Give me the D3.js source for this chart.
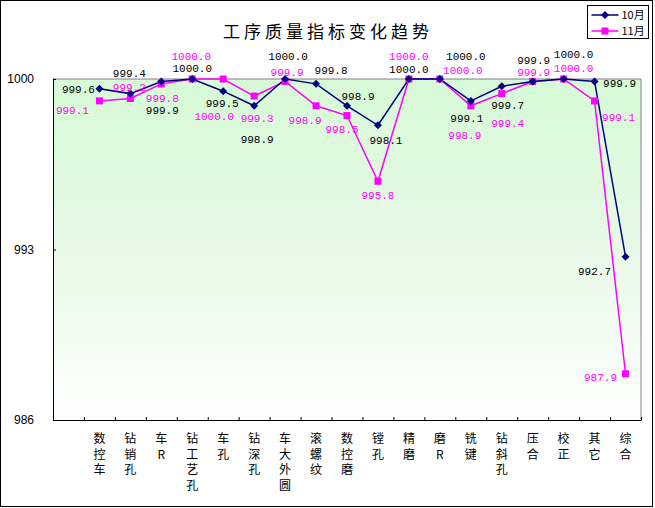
<!DOCTYPE html>
<html>
<head>
<meta charset="utf-8">
<script src="https://cdn.jsdelivr.net/npm/d3@7"></script>
<style>
    body { margin: 0; background: #fff; }
    svg text { font-family: "Liberation Sans", Arial, sans-serif; }
    .lbl { font-family: "Liberation Mono", "DejaVu Sans Mono", monospace; font-size: 11px; }
    .cjk { font-family: "Noto Sans CJK SC", sans-serif; }
</style>
</head>
<body>
<svg id="chart" width="655" height="508"></svg>
<script>
const categories = ["数控车", "钻销孔", "车R", "钻工艺孔", "车孔", "钻深孔", "车大外圆", "滚螺纹", "数控磨",
    "镗孔", "精磨", "磨R", "铣键", "钻斜孔", "压合", "校正", "其它", "综合"];
const oct = [999.6, 999.4, 999.9, 1000.0, 999.5, 998.9, 1000.0, 999.8, 998.9, 998.1, 1000.0, 1000.0,
    999.1, 999.7, 999.9, 1000.0, 999.9, 992.7];
const nov = [999.1, 999.2, 999.8, 1000.0, 1000.0, 999.3, 999.9, 998.9, 998.5, 995.8, 1000.0, 1000.0,
    998.9, 999.4, 999.9, 1000.0, 999.1, 987.9];
const yTicks = [986, 993, 1000];
const seriesNames = ["10月", "11月"];

// where each data label sits relative to its point (dx, dy)
const octLabelOffset = [[-21, 0], [-1, -20], [1, 29], [0, -11], [-1, 12], [3, 33], [3, -23], [15, -14],
    [11, -10], [8, 15], [0, -10], [26, -23], [-4, 17], [6, 19], [1, -21], [10, -25], [25, 2], [-31, 14]];
const novLabelOffset = [[-27, 9], [-1, -11], [1, 14], [-1, -23], [-9, 37], [3, 22], [2, -9], [-11, 14],
    [-5, 14], [0, 14], [0, -23], [23, -9], [-6, 29], [6, 30], [1, -9], [10, -11], [24, 16], [-25, 3]];

const plot = {left: 53, right: 641, top: 79, bottom: 420};
const n = categories.length;

const svg = d3.select("#chart");

// outer frame
svg.append("rect")
    .attr("x", 0.5).attr("y", 0.5)
    .attr("width", 652).attr("height", 506)
    .attr("fill", "#fff").attr("stroke", "#000");

const defs = svg.append("defs");
const grad = defs.append("linearGradient")
    .attr("id", "bg").attr("x1", 0).attr("y1", 0).attr("x2", 0).attr("y2", 1);
grad.append("stop").attr("offset", "0%").attr("stop-color", "#ccffcc");
grad.append("stop").attr("offset", "45%").attr("stop-color", "#e0fbe0");
grad.append("stop").attr("offset", "100%").attr("stop-color", "#ffffff");

const dots = defs.append("pattern")
    .attr("id", "dots").attr("width", 4).attr("height", 4)
    .attr("patternUnits", "userSpaceOnUse");
dots.append("rect").attr("width", 1).attr("height", 1).attr("fill", "#fff");
dots.append("rect").attr("x", 2).attr("y", 2).attr("width", 1).attr("height", 1).attr("fill", "#fff");

const x = d3.scaleLinear().domain([-1.5, n - 0.5]).range([plot.left, plot.right]);
const y = d3.scaleLinear().domain([986, 1000]).range([plot.bottom, plot.top]);

// plot area
svg.append("rect")
    .attr("x", plot.left).attr("y", plot.top)
    .attr("width", plot.right - plot.left).attr("height", plot.bottom - plot.top)
    .attr("fill", "url(#bg)");
svg.append("rect")
    .attr("x", plot.left).attr("y", plot.top)
    .attr("width", plot.right - plot.left).attr("height", plot.bottom - plot.top)
    .attr("fill", "url(#dots)").attr("opacity", 0.6);
svg.append("path")
    .attr("d", `M${plot.left},${plot.top}H${plot.right}V${plot.bottom}`)
    .attr("fill", "none").attr("stroke", "#808080");

// axes
const yAxis = d3.axisLeft(y).tickValues(yTicks).tickFormat(d3.format("d"))
    .tickSize(-3).tickSizeOuter(0).tickPadding(19);
svg.append("g")
    .attr("transform", `translate(${plot.left},0)`)
    .call(yAxis)
    .call(g => g.selectAll("text").attr("font-size", 12).attr("fill", "#000"))
    .call(g => g.selectAll("line,path").attr("stroke", "#000"));

const xAxis = d3.axisBottom(x)
    .tickValues(d3.range(n + 1).map(i => i - 0.5))
    .tickSize(-3).tickSizeOuter(0).tickFormat("");
svg.append("g")
    .attr("transform", `translate(0,${plot.bottom})`)
    .call(xAxis)
    .call(g => g.selectAll("line,path").attr("stroke", "#000"));

// vertical category labels
svg.append("g")
    .selectAll("text")
    .data(categories)
    .join("text")
    .attr("class", "cjk")
    .attr("font-size", 12)
    .attr("text-anchor", "middle")
    .each(function (d, i) {
        d3.select(this).selectAll("tspan")
            .data(Array.from(d))
            .join("tspan")
            .attr("x", x(i))
            .attr("y", (c, k) => 443 + k * 15.5)
            .text(c => c);
    });

const line = d3.line().x((d, i) => x(i)).y(d => y(d));

const series = [
    {name: seriesNames[0], values: oct, offsets: octLabelOffset, color: "#000080", label: "#000", marker: "diamond"},
    {name: seriesNames[1], values: nov, offsets: novLabelOffset, color: "#ff00ff", label: "#ff00ff", marker: "square"}
];

const markerPath = {
    diamond: "M0,-4L4,0L0,4L-4,0Z",
    square: "M-3.5,-3.5H3.5V3.5H-3.5Z"
};

// draw nov first so oct sits on top
[series[1], series[0]].forEach(s => {
    svg.append("path")
        .datum(s.values)
        .attr("d", line)
        .attr("fill", "none")
        .attr("stroke", s.color)
        .attr("stroke-width", 1.5);
});

[series[1], series[0]].forEach(s => {
    svg.append("g")
        .selectAll("path")
        .data(s.values)
        .join("path")
        .attr("transform", (d, i) => `translate(${x(i)},${y(d)})`)
        .attr("d", markerPath[s.marker])
        .attr("fill", s.color);
});

series.forEach(s => {
    svg.append("g")
        .selectAll("text")
        .data(s.values)
        .join("text")
        .attr("class", "lbl")
        .attr("x", (d, i) => x(i) + s.offsets[i][0])
        .attr("y", (d, i) => y(d) + s.offsets[i][1])
        .attr("dy", "0.35em")
        .attr("text-anchor", "middle")
        .attr("fill", s.label)
        .text(d => d.toFixed(1));
});

// title
svg.append("text")
    .attr("class", "cjk")
    .attr("x", 328).attr("y", 32)
    .attr("dy", "0.35em")
    .attr("text-anchor", "middle")
    .attr("font-size", 17)
    .attr("letter-spacing", 4)
    .text("工序质量指标变化趋势");

// legend
const legend = svg.append("g").attr("transform", "translate(587.5,5.5)");
legend.append("rect")
    .attr("width", 61).attr("height", 33)
    .attr("fill", "#fff").attr("stroke", "#000");
series.forEach((s, i) => {
    const row = legend.append("g").attr("transform", `translate(0,${9.5 + i * 16})`);
    row.append("line")
        .attr("x1", 4).attr("x2", 31)
        .attr("stroke", s.color).attr("stroke-width", 1.5);
    row.append("path")
        .attr("transform", "translate(17.5,0)")
        .attr("d", markerPath[s.marker])
        .attr("fill", s.color);
    row.append("text")
        .attr("class", "cjk")
        .attr("x", 34).attr("dy", "0.35em")
        .attr("font-size", 11)
        .text(s.name);
});
</script>
</body>
</html>
